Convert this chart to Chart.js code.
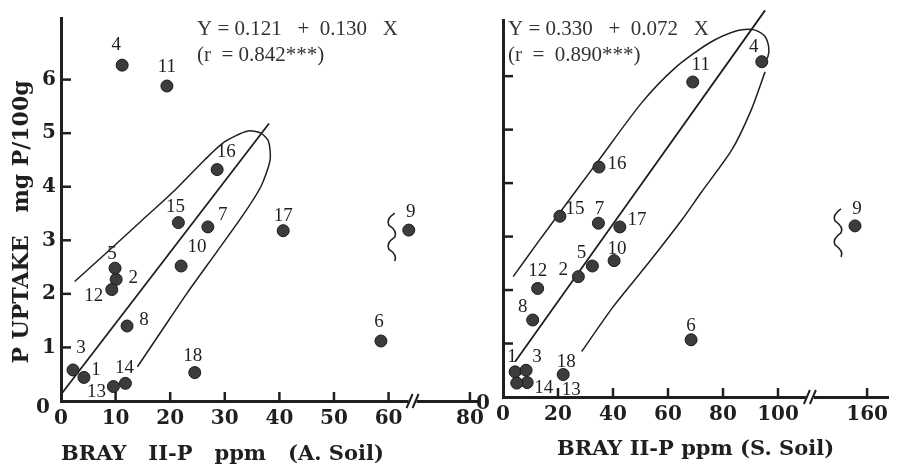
<!DOCTYPE html>
<html>
<head>
<meta charset="utf-8">
<script src="https://cdn.jsdelivr.net/npm/chart.js@4.4.0/dist/chart.umd.min.js"></script>
<style>
  html, body { margin: 0; padding: 0; background: #fff; }
  #wrap { position: relative; width: 897px; height: 465px; overflow: hidden; }
  #cA { position: absolute; left: 0; top: 0; }
  #cS { position: absolute; left: 470px; top: 0; }
</style>
</head>
<body>
<div id="wrap">
  <canvas id="cA" width="490" height="465"></canvas>
  <canvas id="cS" width="427" height="465"></canvas>
</div>
<script>
// sample numbers
const sampleIds = ['1','2','3','4','5','6','7','8','9','10','11','12','13','14','15','16','17','18'];

// A. Soil : Bray II-P (ppm) vs P uptake (mg P/100g)
// sample 9 is off scale, plotted just past the axis break
const soilA_x = [4.2, 10.1, 2.2, 11.2, 9.9, 58.6, 26.9, 12.1, 63.7, 22.0, 19.4, 9.3, 9.6, 11.8, 21.5, 28.6, 40.7, 24.5];
const soilA_y = [0.44, 2.27, 0.58, 6.27, 2.48, 1.12, 3.25, 1.40, 3.19, 2.52, 5.88, 2.08, 0.27, 0.33, 3.33, 4.32, 3.18, 0.53];

// S. Soil
const soilS_x = [4.4, 27.4, 8.4, 94.1, 32.5, 68.4, 34.7, 10.8, 128.0, 40.4, 69.0, 12.6, 8.8, 5.0, 20.7, 34.9, 42.5, 21.9];
const soilS_y = [0.47, 2.25, 0.50, 6.27, 2.45, 1.07, 3.25, 1.44, 3.20, 2.55, 5.89, 2.03, 0.27, 0.26, 3.38, 4.30, 3.18, 0.42];

// regression lines (end points)
const regA_x = [0, 38.1];
const regA_y = [0.12, 5.18];
const regS_x = [4.4, 95.3];
const regS_y = [0.66, 7.23];

// hand drawn envelopes
const envA_x = [14.0, 18.5, 23.0, 28.5, 33.2, 36.6, 38.3, 38.0, 36.6, 34.2, 30.0, 26.3, 20.9, 14.9, 8.9, 2.5];
const envA_y = [0.64, 1.32, 2.00, 2.78, 3.45, 4.00, 4.50, 4.85, 5.00, 5.04, 4.84, 4.50, 3.94, 3.38, 2.82, 2.23];
const envS_upper_x = [3.7, 12.8, 20.7, 34.7, 50.4, 62.5, 75.0, 85.0, 91.0, 95.0, 96.6, 96.3, 94.7];
const envS_upper_y = [2.25, 2.90, 3.45, 4.42, 5.50, 6.15, 6.62, 6.85, 6.87, 6.76, 6.55, 6.36, 6.27];
const envS_lower_x = [28.6, 40.1, 52.8, 65.0, 72.0, 83.2, 90.2, 95.3];
const envS_lower_y = [0.85, 1.69, 2.50, 3.31, 3.82, 4.62, 5.36, 6.08];

// axes: tick values on the drawn scale and their printed labels
const xTickValsA = [0, 10, 20, 30, 40, 50, 60, 74.9];
const xTickTextA = ['0', '10', '20', '30', '40', '50', '60', '80'];
const xTickValsS = [0, 20, 40, 60, 80, 100, 132.4];
const xTickTextS = ['0', '20', '40', '60', '80', '100', '160'];
const yTickVals = [1, 2, 3, 4, 5, 6];

const ink = '#1f1f1f';
const boldFont = '"DejaVu Serif", serif';
const textFont = '"Liberation Serif", "Times New Roman", serif';

function pts(xs, ys) {
  return xs.map((x, i) => ({ x: x, y: ys[i] }));
}

// label offsets in px from each dot (same order as sampleIds)
const offA = [[12,-7],[17,-1],[8,-22],[-6,-20],[-3,-14],[-2,-19],[15,-12],[17,-6],[2,-18],
              [16,-19],[0,-19],[-18,6],[-17,5],[-1,-15],[-3,-16],[9,-18],[0,-15],[-2,-17]];
const offS = [[-3,-15],[-15,-7],[11,-13],[-8,-15],[-11,-13],[0,-14],[1,-14],[-10,-13],[2,-17],
              [3,-12],[8,-17],[0,-17],[44,7],[27,5],[15,-7],[18,-3],[17,-7],[3,-13]];

const decor = {
  id: 'decor',
  afterDatasetsDraw(chart, args, o) {
    const ctx = chart.ctx, xs = chart.scales.x, ys = chart.scales.y, ca = chart.chartArea;
    ctx.save();
    ctx.strokeStyle = ink;
    ctx.fillStyle = ink;
    // inward tick marks
    ctx.lineWidth = 2.5;
    yTickVals.forEach(v => {
      const py = ys.getPixelForValue(v);
      ctx.beginPath(); ctx.moveTo(ca.left, py); ctx.lineTo(ca.left + 10, py); ctx.stroke();
    });
    o.xTicks.filter(v => v > 0).forEach(v => {
      const px = xs.getPixelForValue(v);
      ctx.beginPath(); ctx.moveTo(px, ca.bottom); ctx.lineTo(px, ca.bottom - 9); ctx.stroke();
    });
    // axis break
    const bx = xs.getPixelForValue(o.breakAt), by = ca.bottom;
    ctx.fillStyle = '#fff';
    ctx.fillRect(bx - 4, by - 3, 8, 6);
    ctx.fillStyle = ink;
    ctx.lineWidth = 2;
    [-3, 3].forEach(d => {
      ctx.beginPath(); ctx.moveTo(bx + d - 3, by + 7); ctx.lineTo(bx + d + 3, by - 7); ctx.stroke();
    });
    // squiggle next to the off-scale point
    const sx = xs.getPixelForValue(o.squiggle[0]) - 17;
    const sy = ys.getPixelForValue(o.squiggle[1]);
    ctx.lineWidth = 1.6;
    ctx.beginPath();
    ctx.moveTo(sx + 3, sy - 17);
    for (let k = 0; k < 4; k++) {
      const y0 = sy - 17 + k * 12;
      const dir = k % 2 === 0 ? -1 : 1;
      ctx.quadraticCurveTo(sx + dir * 6, y0 + 6, sx + (k % 2 === 0 ? -3 : 3), y0 + 12);
    }
    ctx.stroke();
    // point numbers
    ctx.font = '19px ' + textFont;
    ctx.textAlign = 'center';
    ctx.textBaseline = 'middle';
    const d = chart.data.datasets[0].data;
    d.forEach((p, i) => {
      ctx.fillText(sampleIds[i], xs.getPixelForValue(p.x) + o.offsets[i][0], ys.getPixelForValue(p.y) + o.offsets[i][1]);
    });
    // regression equation
    ctx.fillStyle = '#333';
    ctx.textAlign = 'left';
    ctx.font = '21px ' + textFont;
    ctx.fillText(o.eq[0], ca.left + o.eqDx, 29);
    ctx.fillText(o.eq[1], ca.left + o.eqDx, 55);
    // origin zero of the y axis
    ctx.fillStyle = ink;
    ctx.textAlign = 'center';
    ctx.font = 'bold 20px ' + boldFont;
    ctx.fillText('0', ca.left - o.zeroDx, ca.bottom + 7);
    // y axis title
    if (o.yTitle) {
      ctx.save();
      ctx.font = 'bold 22px ' + boldFont;
      ctx.translate(22, 222);
      ctx.rotate(-Math.PI / 2);
      ctx.fillText(o.yTitle, 0, 0);
      ctx.restore();
    }
    ctx.restore();
  }
};

function makePanel(id, cfg) {
  const lineDs = (xs, ys, w) => ({
    type: 'line', data: pts(xs, ys), showLine: true, pointRadius: 0,
    borderColor: ink, borderWidth: w, tension: 0.25, fill: false, clip: false
  });
  return new Chart(document.getElementById(id), {
    type: 'scatter',
    data: {
      datasets: [
        { data: pts(cfg.x, cfg.y), pointRadius: 6, pointHoverRadius: 6,
          backgroundColor: '#3c3c3c', borderColor: '#1a1a1a', borderWidth: 1 },
        lineDs(cfg.regX, cfg.regY, 1.8),
      ].concat(cfg.env.map(e => lineDs(e[0], e[1], 1.5)))
    },
    options: {
      responsive: false,
      animation: false,
      layout: { padding: cfg.padding },
      plugins: { legend: { display: false }, tooltip: { enabled: false }, decor: cfg.decor },
      scales: {
        x: {
          type: 'linear', min: 0, max: cfg.xMax,
          afterBuildTicks: s => { s.ticks = cfg.xTickVals.map(v => ({ value: v })); },
          afterFit: s => { s.height = cfg.xHeight; },
          grid: { display: false, drawTicks: false },
          border: { display: true, color: ink, width: 3 },
          ticks: {
            autoSkip: false, maxRotation: 0, padding: 6, color: ink,
            font: { family: boldFont, size: 20, weight: 'bold' },
            callback: (v, i) => cfg.xTickText[i]
          },
          title: {
            display: true, text: cfg.xTitle, align: cfg.titleAlign, color: ink,
            font: { family: boldFont, size: 21, weight: 'bold' },
            padding: { top: 0, bottom: cfg.titlePad }
          }
        },
        y: {
          type: 'linear', min: 0, max: cfg.yMax,
          afterBuildTicks: s => { s.ticks = yTickVals.map(v => ({ value: v })); },
          afterFit: s => { s.width = cfg.yWidth; },
          grid: { display: false, drawTicks: false },
          border: { display: true, color: ink, width: 3 },
          ticks: {
            display: cfg.yLabels, padding: 5, color: ink,
            font: { family: boldFont, size: 20, weight: 'bold' }
          }
        }
      }
    },
    plugins: [decor]
  });
}

makePanel('cA', {
  x: soilA_x, y: soilA_y, regX: regA_x, regY: regA_y,
  env: [[envA_x, envA_y]],
  xMax: 76.7, yMax: 7.15, xTickVals: xTickValsA, xTickText: xTickTextA,
  xTitle: 'BRAY   II-P   ppm   (A. Soil)', titleAlign: 'start', titlePad: -2,
  xHeight: 64, yWidth: 61, yLabels: true,
  padding: { top: 18, right: 5, left: 0, bottom: 0 },
  decor: {
    xTicks: xTickValsA, breakAt: 64.4, squiggle: [soilA_x[8], soilA_y[8]],
    offsets: offA, eq: ['Y = 0.121   +  0.130   X', '(r  = 0.842***)'], eqDx: 136,
    zeroDx: 18, yTitle: 'P UPTAKE   mg P/100g'
  }
});

makePanel('cS', {
  x: soilS_x, y: soilS_y, regX: regS_x, regY: regS_y,
  env: [[envS_upper_x, envS_upper_y], [envS_lower_x, envS_lower_y]],
  xMax: 140, yMax: 7.05, xTickVals: xTickValsS, xTickText: xTickTextS,
  xTitle: 'BRAY II-P ppm (S. Soil)', titleAlign: 'center', titlePad: 3,
  xHeight: 68, yWidth: 33, yLabels: false,
  padding: { top: 20, right: 9, left: 0, bottom: 0 },
  decor: {
    xTicks: xTickValsS, breakAt: 111.6, squiggle: [soilS_x[8], soilS_y[8]],
    offsets: offS, eq: ['Y = 0.330   +  0.072   X', '(r  =  0.890***)'], eqDx: 5,
    zeroDx: 20, yTitle: null
  }
});
</script>
</body>
</html>
